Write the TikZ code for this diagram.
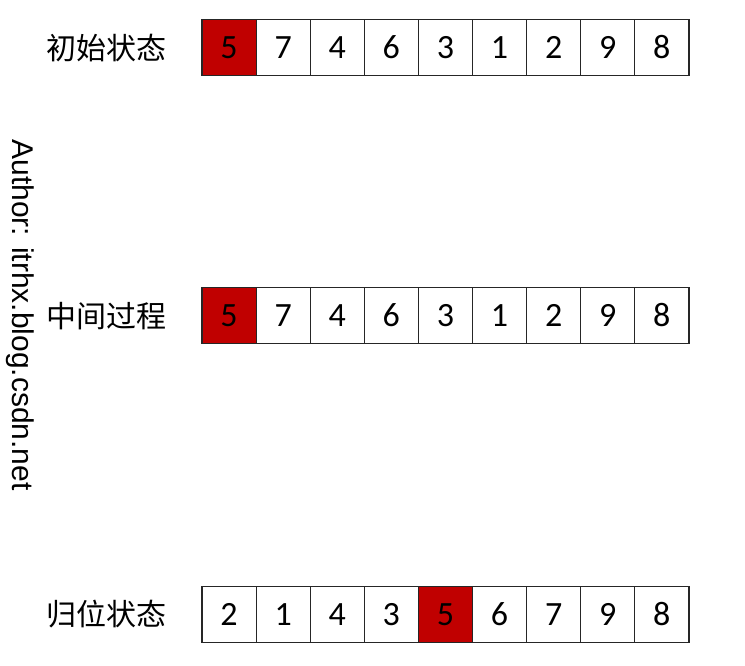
\documentclass[tikz,border=0pt]{standalone}
\usepackage{fontspec}
\setmainfont{Carlito}
\newfontfamily\cjk{Noto Sans CJK SC}
\newfontfamily\arial{Liberation Sans}
\definecolor{pivotred}{HTML}{C00000}
\begin{document}
\begin{tikzpicture}[x=1pt,y=-1pt]
        \useasboundingbox[fill=white] (0,0) rectangle (745,665);

        \begin{scope}[every node/.style={font=\cjk\fontsize{30}{33}\selectfont}]
            \node (la) at (106,48) {初始状态};
            \node (lb) at (106,316) {中间过程};
            \node (lc) at (106,614) {归位状态};
        \end{scope}

        \node[rotate=-90,font=\arial\fontsize{30}{33}\selectfont] (author) at (20,315) {Author: itrhx.blog.csdn.net};

        \begin{scope}[every node/.style={rectangle,draw=black!85,line width=1.2pt,
                    minimum width=54.1pt,minimum height=55.5pt,inner sep=0pt,
                    font=\fontsize{34}{38}\selectfont},
                    hot/.style={fill=pivotred}]
            % initial state
            \node[hot] (a1) at (229.05,47.5) {5};
            \node (a2) at (283.15,47.5) {7};
            \node (a3) at (337.25,47.5) {4};
            \node (a4) at (391.35,47.5) {6};
            \node (a5) at (445.45,47.5) {3};
            \node (a6) at (499.55,47.5) {1};
            \node (a7) at (553.65,47.5) {2};
            \node (a8) at (607.75,47.5) {9};
            \node (a9) at (661.85,47.5) {8};
            % in between
            \node[hot] (b1) at (229.05,315.5) {5};
            \node (b2) at (283.15,315.5) {7};
            \node (b3) at (337.25,315.5) {4};
            \node (b4) at (391.35,315.5) {6};
            \node (b5) at (445.45,315.5) {3};
            \node (b6) at (499.55,315.5) {1};
            \node (b7) at (553.65,315.5) {2};
            \node (b8) at (607.75,315.5) {9};
            \node (b9) at (661.85,315.5) {8};
            % pivot in place
            \node (c1) at (229.05,614.5) {2};
            \node (c2) at (283.15,614.5) {1};
            \node (c3) at (337.25,614.5) {4};
            \node (c4) at (391.35,614.5) {3};
            \node[hot] (c5) at (445.45,614.5) {5};
            \node (c6) at (499.55,614.5) {6};
            \node (c7) at (553.65,614.5) {7};
            \node (c8) at (607.75,614.5) {9};
            \node (c9) at (661.85,614.5) {8};
        \end{scope}
    \end{tikzpicture}
\end{document}
